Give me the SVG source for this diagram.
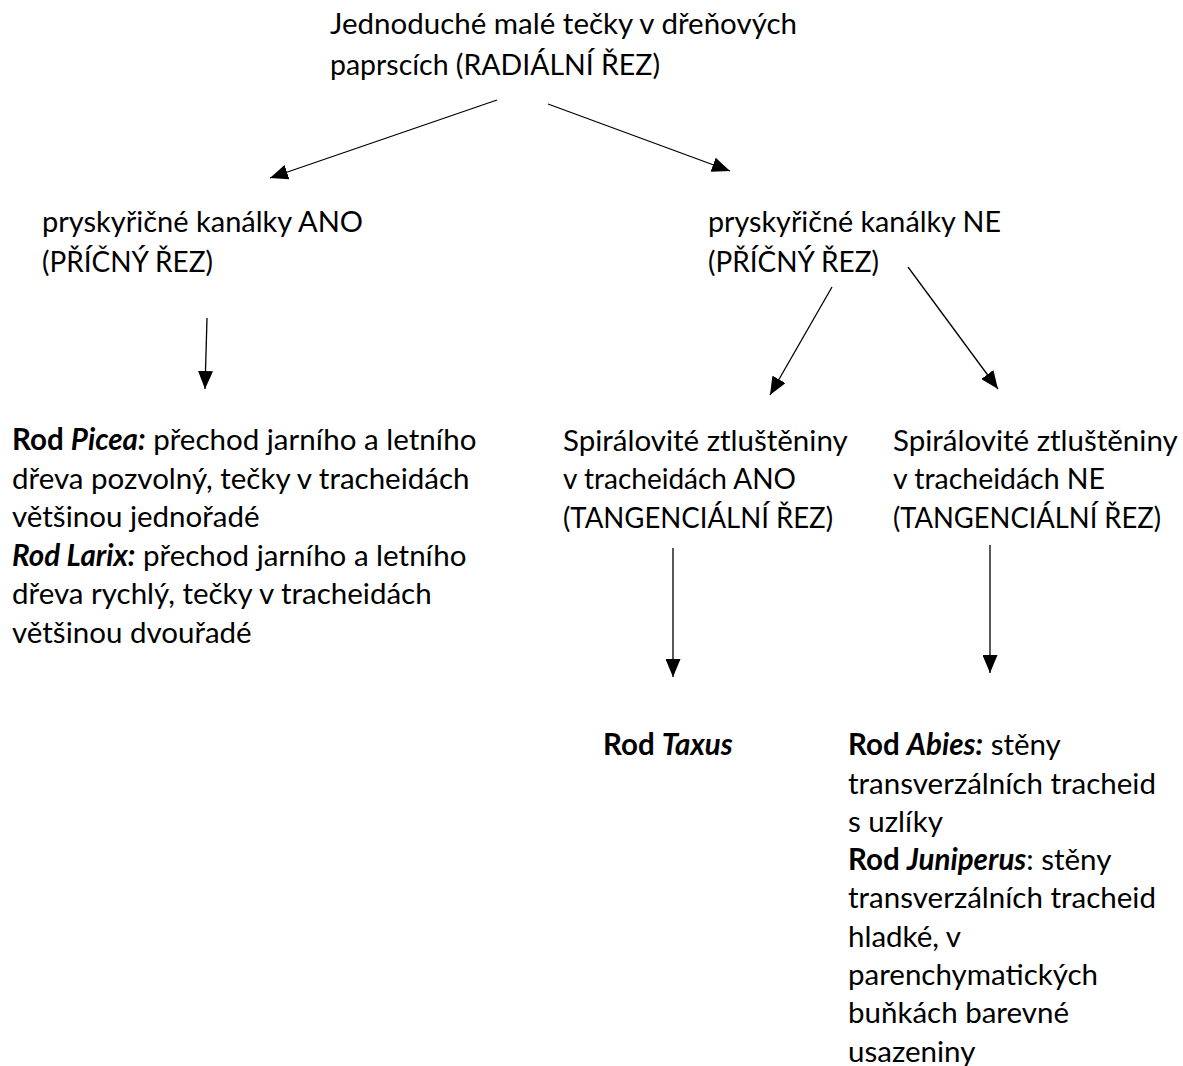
<svg xmlns="http://www.w3.org/2000/svg" width="1183" height="1066" viewBox="0 0 1183 1066">
  <style>
    text { font-family: Lato, "Open Sans", "Liberation Sans", sans-serif; font-size: 29.5px; fill: #000; }
    .b { font-weight: bold; }
    .i { font-style: italic; }
    .edge { stroke: #000; stroke-width: 1.3; fill: none; marker-end: url(#head); }
  </style>
  <defs>
    <marker id="head" viewBox="0 0 10 10" refX="10" refY="5" markerWidth="18" markerHeight="15" markerUnits="userSpaceOnUse" orient="auto" preserveAspectRatio="none">
      <path d="M0,0 L10,5 L0,10 Z" fill="#000"/>
    </marker>
  </defs>
  <rect width="1183" height="1066" fill="#fff"/>

  <g id="connectors">
    <line class="edge" x1="497" y1="100" x2="270" y2="178"/>
    <line class="edge" x1="548" y1="104" x2="730" y2="171"/>
    <line class="edge" x1="207" y1="318" x2="205" y2="389"/>
    <line class="edge" x1="832" y1="287" x2="770" y2="395"/>
    <line class="edge" x1="908" y1="267" x2="998" y2="389"/>
    <line class="edge" x1="673" y1="548" x2="673" y2="677"/>
    <line class="edge" x1="990" y1="545" x2="990" y2="673"/>
  </g>

  <g id="root">
    <text x="330" y="34">Jednoduché malé tečky v dřeňových</text>
    <text x="330" y="75" textLength="330" lengthAdjust="spacingAndGlyphs">paprscích (RADIÁLNÍ ŘEZ)</text>
  </g>

  <g id="resin-yes">
    <text x="42" y="232" textLength="321" lengthAdjust="spacingAndGlyphs">pryskyřičné kanálky ANO</text>
    <text x="42" y="272" textLength="171" lengthAdjust="spacingAndGlyphs">(PŘÍČNÝ ŘEZ)</text>
  </g>

  <g id="resin-no">
    <text x="708" y="232" textLength="293" lengthAdjust="spacingAndGlyphs">pryskyřičné kanálky NE</text>
    <text x="708" y="272" textLength="171" lengthAdjust="spacingAndGlyphs">(PŘÍČNÝ ŘEZ)</text>
  </g>

  <g id="picea-larix">
    <text x="12" y="450"><tspan class="b">Rod </tspan><tspan class="b i">Picea:</tspan> přechod jarního a letního</text>
    <text x="12" y="489">dřeva pozvolný, tečky v tracheidách</text>
    <text x="12" y="527">většinou jednořadé</text>
    <text x="12" y="566"><tspan class="b i">Rod Larix:</tspan> přechod jarního a letního</text>
    <text x="12" y="604">dřeva rychlý, tečky v tracheidách</text>
    <text x="12" y="643">většinou dvouřadé</text>
  </g>

  <g id="spiral-yes">
    <text x="563" y="451">Spirálovité ztluštěniny</text>
    <text x="563" y="489" textLength="233" lengthAdjust="spacingAndGlyphs">v tracheidách ANO</text>
    <text x="563" y="528" textLength="270" lengthAdjust="spacingAndGlyphs">(TANGENCIÁLNÍ ŘEZ)</text>
  </g>

  <g id="spiral-no">
    <text x="893" y="451">Spirálovité ztluštěniny</text>
    <text x="893" y="489" textLength="212" lengthAdjust="spacingAndGlyphs">v tracheidách NE</text>
    <text x="893" y="528" textLength="268" lengthAdjust="spacingAndGlyphs">(TANGENCIÁLNÍ ŘEZ)</text>
  </g>

  <g id="taxus">
    <text x="603" y="755"><tspan class="b">Rod </tspan><tspan class="b i">Taxus</tspan></text>
  </g>

  <g id="abies-juniperus">
    <text x="848" y="755"><tspan class="b">Rod </tspan><tspan class="b i">Abies:</tspan> stěny</text>
    <text x="848" y="794">transverzálních tracheid</text>
    <text x="848" y="832">s uzlíky</text>
    <text x="848" y="870"><tspan class="b">Rod </tspan><tspan class="b i">Juniperus</tspan>: stěny</text>
    <text x="848" y="908">transverzálních tracheid</text>
    <text x="848" y="947">hladké, v</text>
    <text x="848" y="985">parenchymatických</text>
    <text x="848" y="1023">buňkách barevné</text>
    <text x="848" y="1062">usazeniny</text>
  </g>
</svg>
